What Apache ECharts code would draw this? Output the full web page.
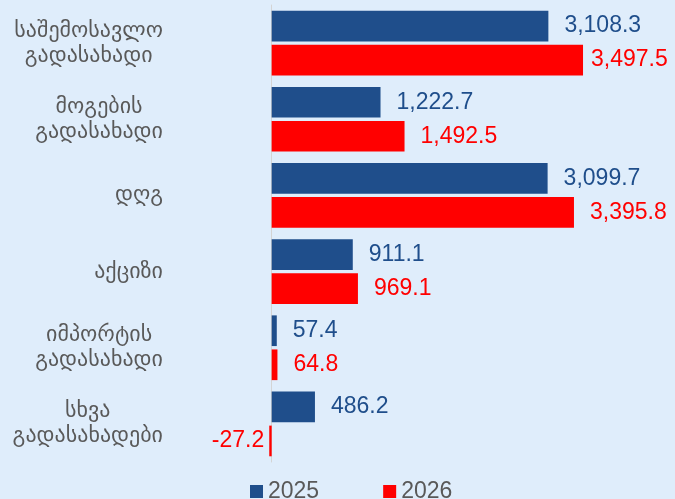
<!DOCTYPE html>
<html>
<head>
<meta charset="utf-8">
<script src="https://cdn.jsdelivr.net/npm/echarts@6/dist/echarts.min.js"></script>
<style>
  html, body { margin: 0; padding: 0; background: #dfedfb; }
  #chart { width: 675px; height: 499px; }
</style>
</head>
<body>
<div id="chart"></div>
<script>
// categories and values
const categories = [
  "საშემოსავლო\nგადასახადი",
  "მოგების\nგადასახადი",
  "დღგ",
  "აქციზი",
  "იმპორტის\nგადასახადი",
  "სხვა\nგადასახადები"
];
const years = ["2025", "2026"];
const values2025 = [3108.3, 1222.7, 3099.7, 911.1, 57.4, 486.2];
const values2026 = [3497.5, 1492.5, 3395.8, 969.1, 64.8, -27.2];

const blue = "#1f4e8b";
const red = "#ff0000";
const font = "'Liberation Sans', Arial, 'DejaVu Sans', sans-serif";

function fmt(v) {
  return v.toLocaleString("en-US", { minimumFractionDigits: 1, maximumFractionDigits: 1 });
}

// negative values get their label on the left
function toItems(arr) {
  return arr.map(function (v) {
    const item = { value: v };
    if (v < 0) {
      item.label = { position: "left", distance: 5 };
    }
    return item;
  });
}

const chart = echarts.init(document.getElementById("chart"));
const items2026 = toItems(values2026);
items2026[0].label = { distance: 8 }; // squeezed at the right edge

chart.setOption({
  backgroundColor: "#dfedfb",
  animation: false,
  grid: { left: 269, top: 5, width: 403, height: 457 },
  legend: {
    data: years,
    left: 250,
    top: 480,
    padding: 0,
    itemWidth: 13,
    itemHeight: 13,
    itemGap: 64,
    icon: "rect",
    textStyle: { fontSize: 23, color: "#595959", fontFamily: font }
  },
  xAxis: {
    type: "value",
    min: -30,
    max: 4497,
    show: false,
    splitLine: { show: false }
  },
  yAxis: {
    type: "category",
    data: categories,
    inverse: true,
    axisTick: { show: false },
    axisLine: { show: true, lineStyle: { color: "#d4d4d4", width: 1 } },
    axisLabel: {
      margin: 106,
      formatter: function (v) {
        return v.split("\n").map(function (s) { return "{c|" + s + "}"; }).join("\n");
      },
      rich: {
        c: { align: "center", fontSize: 22, lineHeight: 25, color: "#595959", fontFamily: font }
      }
    }
  },
  series: [
    {
      name: "2025",
      type: "bar",
      data: toItems(values2025),
      itemStyle: { color: blue },
      barGap: "11%",
      barCategoryGap: "15%",
      label: {
        show: true,
        position: "right",
        distance: 16,
        color: blue,
        fontSize: 23,
        fontFamily: font,
        formatter: function (p) { return fmt(p.value); }
      }
    },
    {
      name: "2026",
      type: "bar",
      data: items2026,
      itemStyle: { color: red },
      label: {
        show: true,
        position: "right",
        distance: 16,
        color: red,
        fontSize: 23,
        fontFamily: font,
        formatter: function (p) { return fmt(p.value); }
      }
    }
  ]
});
</script>
</body>
</html>
